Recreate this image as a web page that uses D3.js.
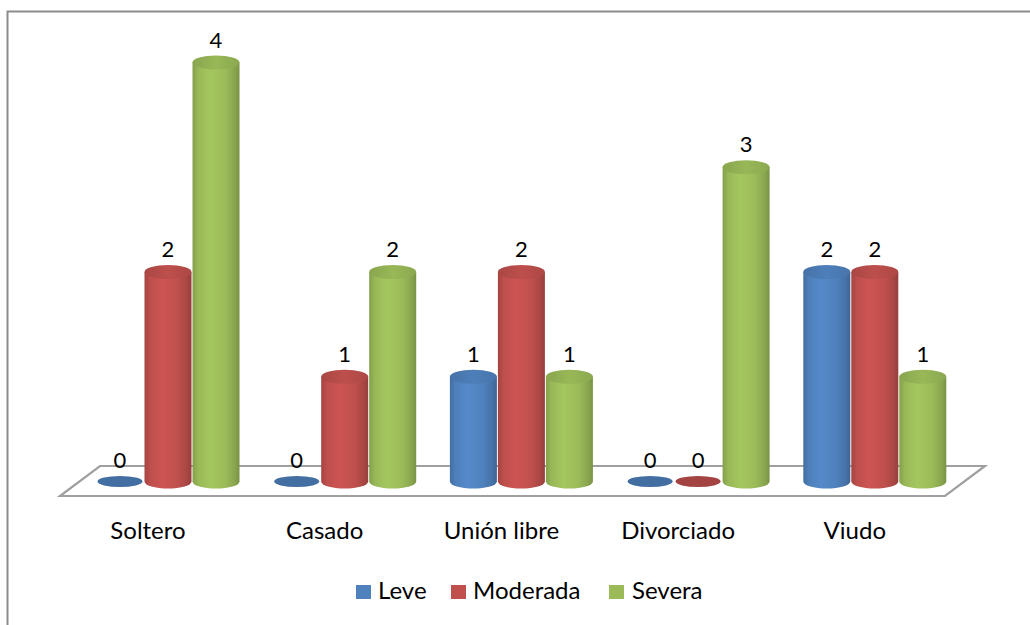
<!DOCTYPE html>
<html>
<head>
<meta charset="utf-8">
<script src="https://cdn.jsdelivr.net/npm/d3@7"></script>
<style>
  html, body { margin: 0; padding: 0; background: #fff; }
  svg { display: block; }
  text { font-family: Lato, "Open Sans", sans-serif; fill: #000; }
</style>
</head>
<body>
<svg id="chart" width="1030" height="625"></svg>
<script>
// Estado civil vs. nivel de severidad
const categories = ["Soltero", "Casado", "Unión libre", "Divorciado", "Viudo"];
const series = ["Leve", "Moderada", "Severa"];
const leve     = [0, 0, 1, 0, 2];
const moderada = [2, 1, 2, 0, 2];
const severa   = [4, 2, 1, 3, 1];
const seriesValues = [leve, moderada, severa];
const colors = ["#4F81BD", "#C0504D", "#9BBB59"];

const svg = d3.select("#chart");
const defs = svg.append("defs");

// outer chart frame
svg.append("rect")
  .attr("x", 7.5).attr("y", 11.5)
  .attr("width", 1200).attr("height", 1000)
  .attr("fill", "none").attr("stroke", "#8c8c8c").attr("stroke-width", 2);

// scales
const groupStep = 176.7;
const x = d3.scaleBand().domain(categories)
  .range([79.65, 79.65 + groupStep * categories.length]).padding(0);
const inner = d3.scaleBand().domain(series).range([0, 144]).padding(0);
const y = d3.scaleLinear().domain([0, 4]).range([481.5, 62.5]);

const barW = 47;
const rx = barW / 2;
const ry = 7;
const cx = (ci, si) => x(categories[ci]) + (x.bandwidth() - 144) / 2 + inner(series[si]) + inner.bandwidth() / 2;

// floor (parallelogram in perspective)
const floorBack = 466, floorFront = 496;
svg.append("path")
  .attr("d", `M100,${floorBack} L985,${floorBack} L945,${floorFront} L60,${floorFront} Z`)
  .attr("fill", "#fff").attr("stroke", "#a0a0a0").attr("stroke-width", 2.2)
  .attr("stroke-linejoin", "miter");

// cylinder shading gradients
colors.forEach((c, i) => {
  const base = d3.color(c);
  const g = defs.append("linearGradient").attr("id", "body" + i)
    .attr("x1", "0%").attr("x2", "100%").attr("y1", "0%").attr("y2", "0%");
  [[0, base.darker(0.45)], [0.12, base.darker(0.05)], [0.38, base.brighter(0.18)],
   [0.7, base], [0.9, base.darker(0.35)], [1, base.darker(0.7)]]
    .forEach(([o, col]) => g.append("stop").attr("offset", o).attr("stop-color", col));
  const t = defs.append("linearGradient").attr("id", "top" + i)
    .attr("x1", "0%").attr("x2", "100%").attr("y1", "0%").attr("y2", "0%");
  [[0, base.darker(0.35)], [0.5, base.darker(0.05)], [1, base.darker(0.3)]]
    .forEach(([o, col]) => t.append("stop").attr("offset", o).attr("stop-color", col));
});

// flatten into drawable records
const bars = [];
categories.forEach((cat, ci) => {
  series.forEach((s, si) => {
    bars.push({ ci, si, value: seriesValues[si][ci] });
  });
});

const g = svg.append("g");
bars.forEach(b => {
  const c = cx(b.ci, b.si);
  const yb = y(0), yt = y(b.value);
  if (b.value > 0) {
    g.append("path")
      .attr("d", `M${c - rx},${yt} L${c - rx},${yb} A${rx},${ry} 0 0 0 ${c + rx},${yb} L${c + rx},${yt} Z`)
      .attr("fill", `url(#body${b.si})`);
    g.append("ellipse")
      .attr("cx", c).attr("cy", yt).attr("rx", rx).attr("ry", ry)
      .attr("fill", `url(#top${b.si})`);
  } else {
    g.append("ellipse")
      .attr("cx", c).attr("cy", yt).attr("rx", rx - 1).attr("ry", 5.5)
      .attr("fill", d3.color(colors[b.si]).darker(0.45));
  }
  // value label
  g.append("text")
    .attr("x", c).attr("y", yt - (b.value > 0 ? ry : 5.5) - 8)
    .attr("text-anchor", "middle")
    .attr("font-size", 22)
    .text(b.value);
});

// category labels along the front of the floor
svg.append("g").selectAll("text").data(categories).join("text")
  .attr("x", (d, i) => cx(i, 1) - 20)
  .attr("y", 539)
  .attr("text-anchor", "middle")
  .attr("font-size", 24)
  .text(d => d);

// legend
const legendItems = [
  { name: series[0], sx: 356, tx: 378 },
  { name: series[1], sx: 451, tx: 473 },
  { name: series[2], sx: 609, tx: 632 }
];
const lg = svg.append("g");
legendItems.forEach((it, i) => {
  lg.append("rect").attr("x", it.sx).attr("y", 585).attr("width", 15).attr("height", 14)
    .attr("fill", colors[i]);
  lg.append("text").attr("x", it.tx).attr("y", 599).attr("font-size", 24).text(it.name);
});
</script>
</body>
</html>
